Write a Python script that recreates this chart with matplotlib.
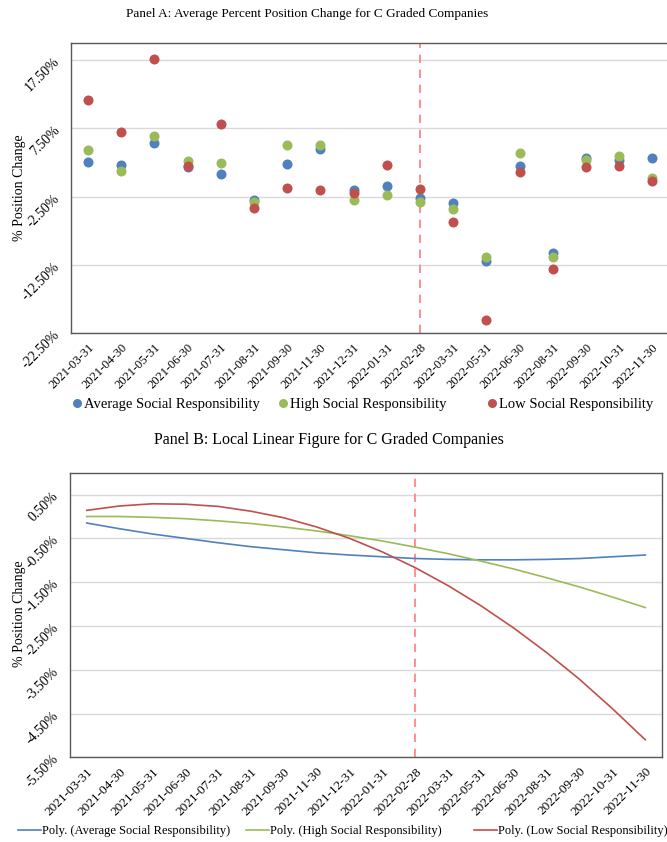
import matplotlib
matplotlib.use("Agg")
import matplotlib.pyplot as plt
from matplotlib.lines import Line2D
import numpy as np

plt.rcParams['font.family'] = 'serif'
plt.rcParams['font.serif'] = ['Liberation Serif', 'DejaVu Serif']

dates = ['2021-03-31', '2021-04-30', '2021-05-31', '2021-06-30', '2021-07-31',
         '2021-08-31', '2021-09-30', '2021-11-30', '2021-12-31', '2022-01-31',
         '2022-02-28', '2022-03-31', '2022-05-31', '2022-06-30', '2022-08-31',
         '2022-09-30', '2022-10-31', '2022-11-30']
event_date = '2022-02-28'

# Panel A: average % position change (scatter)
avg_sr = [2.56, 2.07, 5.33, 1.83, 0.80, -2.94, 2.22, 4.41, -1.58, -0.90,
          -2.65, -3.42, -11.94, 2.03, -10.82, 3.14, 2.80, 3.09]
high_sr = [4.26, 1.30, 6.35, 2.70, 2.41, -3.37, 5.09, 5.09, -3.04, -2.31,
           -3.37, -4.30, -11.30, 3.82, -11.40, 2.80, 3.39, 0.22]
low_sr = [11.60, 6.89, 17.55, 2.03, 8.06, -4.20, -1.24, -1.48, -1.92, 2.07,
          -1.34, -6.20, -20.55, 1.15, -13.15, 1.83, 1.93, -0.22]

# Panel B: polynomial trend curves read at each date
poly_avg = [-0.15, -0.28, -0.40, -0.50, -0.60, -0.69, -0.76, -0.83, -0.88, -0.92,
            -0.96, -0.98, -0.99, -0.99, -0.98, -0.96, -0.92, -0.88]
poly_high = [0.00, -0.00, -0.02, -0.05, -0.10, -0.16, -0.24, -0.33, -0.44, -0.56,
             -0.70, -0.85, -1.02, -1.20, -1.40, -1.61, -1.84, -2.08]
poly_low = [0.14, 0.24, 0.29, 0.28, 0.23, 0.12, -0.03, -0.24, -0.50, -0.81,
            -1.17, -1.58, -2.04, -2.55, -3.11, -3.72, -4.39, -5.10]

blue = '#4F81BD'
green = '#9BBB59'
red = '#C0504D'
vline_col = '#FF7C80'
grid_col = '#D9D9D9'
spine_col = '#595959'

x = np.arange(len(dates))
x_event = dates.index(event_date)

fig = plt.figure(figsize=(6.67, 8.42), dpi=100)

# ---------------- Panel A ----------------
ax1 = fig.add_axes([0.107, 0.6042, 0.896, 0.3451])
ax1.scatter(x, avg_sr, s=52, color=blue, zorder=3, linewidths=0)
ax1.scatter(x, high_sr, s=52, color=green, zorder=3, linewidths=0)
ax1.scatter(x, low_sr, s=52, color=red, zorder=3, linewidths=0)
ax1.axvline(x_event, color=vline_col, ls=(0, (5, 4)), lw=1.2, zorder=2)
ax1.set_xlim(-0.5, len(dates) - 0.5)
ax1.set_ylim(-22.5, 20)
yt1 = [-22.5, -12.5, -2.5, 7.5, 17.5]
ax1.set_yticks(yt1)
ax1.set_yticklabels(['%.2f%%' % v for v in yt1])

fig.text(0.46, 1 - 14 / 842, 'Panel A: Average Percent Position Change for C Graded Companies',
         ha='center', va='center', fontsize=9.5)
fig.text(20 / 667, 1 - 188 / 842, '% Position Change', rotation=90,
         ha='center', va='center', fontsize=10)

leg_items = [(blue, 'Average Social Responsibility', 73),
             (green, 'High Social Responsibility', 279),
             (red, 'Low Social Responsibility', 488)]
for c, lab, px in leg_items:
    h = Line2D([], [], marker='o', ls='none', color=c, markersize=6.5, markeredgewidth=0)
    fig.legend([h], [lab], loc='center left', bbox_to_anchor=(px / 667, 1 - 404 / 842),
               frameon=False, fontsize=10.5, handlelength=0.6, handletextpad=0.15,
               borderpad=0, borderaxespad=0)

# ---------------- Panel B ----------------
ax2 = fig.add_axes([0.1054, 0.1006, 0.8867, 0.338])
ax2.plot(x, poly_avg, color=blue, lw=1.2, zorder=3)
ax2.plot(x, poly_high, color=green, lw=1.2, zorder=3)
ax2.plot(x, poly_low, color=red, lw=1.2, zorder=3)
ax2.axvline(x_event, ymin=0, ymax=0.99, color=vline_col, ls=(0, (5, 4)), lw=1.2, zorder=2)
ax2.set_xlim(-0.5, len(dates) - 0.5)
ax2.set_ylim(-5.5, 1.0)
yt2 = [-5.5, -4.5, -3.5, -2.5, -1.5, -0.5, 0.5]
ax2.set_yticks(yt2)
ax2.set_yticklabels(['%.2f%%' % v for v in yt2])

fig.text(0.493, 1 - 440 / 842, 'Panel B: Local Linear Figure for C Graded Companies',
         ha='center', va='center', fontsize=11.5)
fig.text(20 / 667, 1 - 614 / 842, '% Position Change', rotation=90,
         ha='center', va='center', fontsize=10)

leg_items2 = [(blue, 'Poly. (Average Social Responsibility)', 18),
              (green, 'Poly. (High Social Responsibility)', 246),
              (red, 'Poly. (Low Social Responsibility)', 474)]
for c, lab, px in leg_items2:
    h = Line2D([], [], color=c, lw=1.2)
    fig.legend([h], [lab], loc='center left', bbox_to_anchor=(px / 667, 1 - 831 / 842),
               frameon=False, fontsize=9, handlelength=1.8, handletextpad=0.1,
               borderpad=0, borderaxespad=0)

for ax, xfs in ((ax1, 9), (ax2, 9.5)):
    ax.set_xticks(x)
    ax.set_xticklabels(dates, rotation=45, ha='right', rotation_mode='anchor', fontsize=xfs)
    for lab in ax.get_yticklabels():
        lab.set_rotation(45)
        lab.set_rotation_mode('anchor')
        lab.set_ha('right')
        lab.set_va('center')
        lab.set_fontsize(10)
    ax.tick_params(axis='both', length=0, pad=6)
    ax.tick_params(axis='y', pad=10)
    ax.grid(axis='y', color=grid_col, lw=1.0)
    ax.set_axisbelow(True)
    for s in ax.spines.values():
        s.set_color(spine_col)
        s.set_linewidth(1.0)

fig.savefig('out.png', dpi=100)
